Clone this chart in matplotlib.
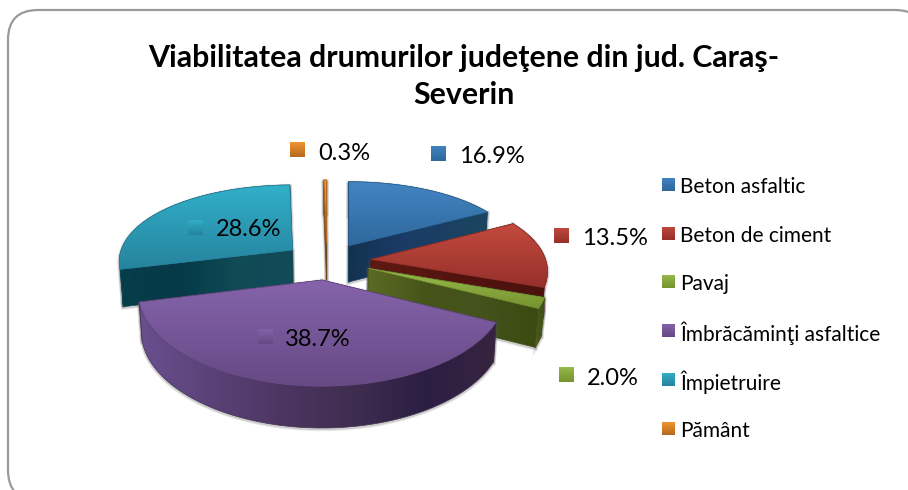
import numpy as np
import matplotlib
matplotlib.use("Agg")
import matplotlib.pyplot as plt
from matplotlib.colors import LinearSegmentedColormap
from matplotlib.patches import FancyBboxPatch, Polygon

categories = ["Beton asfaltic", "Beton de ciment", "Pavaj",
              "Îmbrăcăminţi asfaltice", "Împietruire", "Pământ"]
values = [16.9, 13.5, 2.0, 38.7, 28.6, 0.3]
title_lines = ["Viabilitatea drumurilor judeţene din jud. Caraş-", "Severin"]

# colours per slice: top face (light, dark), side wall stops left to right
top_colors = [("#4384C2", "#2E689C"), ("#C24A3C", "#96302C"), ("#98BC4C", "#76922F"),
              ("#8564AB", "#674985"), ("#31B0CA", "#27839E"), ("#F4982F", "#B5681F")]
wall_colors = [["#12334F", "#1A3A66", "#1B3F63", "#1A4560"],
               ["#5E1A12", "#531410", "#4A120E"],
               ["#5D6A25", "#465419", "#44531C", "#3A4A10"],
               ["#6A4F8E", "#5A4278", "#4D3562", "#3F2E50", "#2C1E44", "#36243F"],
               ["#073C4A", "#063A48", "#0F4A55", "#124C58"],
               ["#A8641E", "#6B4518"]]
# pixel spot of each value label: key square left/top, text left/centre
label_spots = [(431, 146, 459, 156), (554, 228, 582, 238), (559, 367, 587, 378),
               (258, 329, 285, 339), (188, 220, 216, 229), (290, 142, 318, 153)]

CX, CY = 327, 261
RX, RY = 175, 80
PERSP = 0.175
PERSP_X = 0.15
EXPLODE = 0.23
EXPLODE_X = 1.1
DEPTH = 37


def project(ox, oy, dx, dy, z=0.0):
    # the explosion offset keeps its own scale so radial edges at 0 deg stay upright
    y = oy + dy
    s = 1 / (1 + PERSP * y)
    sx_scale = 1 / (1 + PERSP_X * y)
    s0 = 1 / (1 + PERSP_X * oy)
    sx = CX + RX * (ox * EXPLODE_X * s0 + dx * sx_scale)
    sy = CY - RY * y * s + DEPTH * np.sqrt(s) * z
    sx = CX + (sx - CX) * (1 - 0.015 * z)
    return np.column_stack([sx, sy])


def gradient_poly(ax, pts, colors, z, horizontal=False, edge=True):
    poly = Polygon(pts, closed=True, fc="none", ec="none", zorder=z)
    ax.add_patch(poly)
    cmap = LinearSegmentedColormap.from_list("g", colors)
    grad = np.linspace(0, 1, 128)
    grad = grad.reshape(1, -1) if horizontal else grad.reshape(-1, 1)
    x0, y0 = pts.min(axis=0)
    x1, y1 = pts.max(axis=0)
    im = ax.imshow(grad, extent=(x0, x1 + 0.01, y1 + 0.01, y0), cmap=cmap, aspect="auto",
                   zorder=z, interpolation="bilinear")
    im.set_clip_path(poly)
    if edge:
        ax.add_patch(Polygon(pts, closed=True, fc="none", ec=colors[len(colors) // 2],
                             lw=0.5, zorder=z + 0.1))


def draw_slice(ax, start, end, tops, walls, z):
    mid = (start + end) / 2
    ox, oy = EXPLODE * np.sin(mid), EXPLODE * np.cos(mid)
    th = np.linspace(start, end, 80)
    arc_top = project(ox, oy, np.sin(th), np.cos(th))
    arc_bot = project(ox, oy, np.sin(th), np.cos(th), 1.0)
    apex_top = project(ox, oy, np.zeros(1), np.zeros(1))
    apex_bot = project(ox, oy, np.zeros(1), np.zeros(1), 1.0)

    rim = np.vstack([arc_top, arc_bot[::-1]])
    cut_a = np.vstack([apex_top, arc_top[0], arc_bot[0], apex_bot])
    cut_b = np.vstack([apex_top, arc_top[-1], arc_bot[-1], apex_bot])
    # soft grey shadow round the walls
    for shape in (rim, cut_a, cut_b):
        for lw, alpha in ((3.2, 0.12), (1.8, 0.2)):
            ax.add_patch(Polygon(shape + [0, 1], closed=True, fc="none",
                                 ec="#555555", lw=lw, alpha=alpha, zorder=z))
    gradient_poly(ax, cut_a, walls, z + 1, horizontal=True)
    gradient_poly(ax, cut_b, walls, z + 2, horizontal=True)
    gradient_poly(ax, rim, walls, z + 3, horizontal=True)
    gradient_poly(ax, np.vstack([apex_top, arc_top]), list(tops), z + 4)


fig = plt.figure(figsize=(9.08, 4.90), dpi=100)
plt.rcParams["font.family"] = ["Lato", "DejaVu Sans"]
ax = fig.add_axes([0, 0, 1, 1])

ax.add_patch(FancyBboxPatch((38, 40), 857, 430, boxstyle="round,pad=30,rounding_size=30",
                            fc="white", ec="#9A9A9A", lw=1.6, zorder=0))

ax.text(464, 58, title_lines[0], ha="center", va="center", fontsize=21.8,
        fontweight="bold", color="black", zorder=40)
ax.text(464, 95, title_lines[1], ha="center", va="center", fontsize=21.8,
        fontweight="bold", color="black", zorder=40)

fracs = np.array(values) / sum(values)
edges = np.concatenate([[0], np.cumsum(fracs)]) * 2 * np.pi
order = [5, 4, 0, 1, 2, 3]  # back to front
for n, i in enumerate(order):
    draw_slice(ax, edges[i], edges[i + 1], top_colors[i], wall_colors[i], 2 + n * 6)

for i, val in enumerate(values):
    kx, ky, tx, ty = label_spots[i]
    sq = np.array([[kx, ky], [kx + 15, ky], [kx + 15, ky + 15], [kx, ky + 15]], dtype=float)
    gradient_poly(ax, sq, list(top_colors[i]), 42, edge=False)
    ax.text(tx, ty, f"{val:.1f}%", ha="left", va="center", fontsize=17, color="black", zorder=44)

for i, name in enumerate(categories):
    y = 178 + i * 48.7
    sq = np.array([[662, y], [675, y], [675, y + 13], [662, y + 13]], dtype=float)
    gradient_poly(ax, sq, list(top_colors[i]), 42, edge=False)
    ax.text(680, y + 9, name, ha="left", va="center", fontsize=15, color="black", zorder=44)

ax.set_xlim(0, 908)
ax.set_ylim(490, 0)
ax.axis("off")
fig.savefig("out.png", dpi=100)
